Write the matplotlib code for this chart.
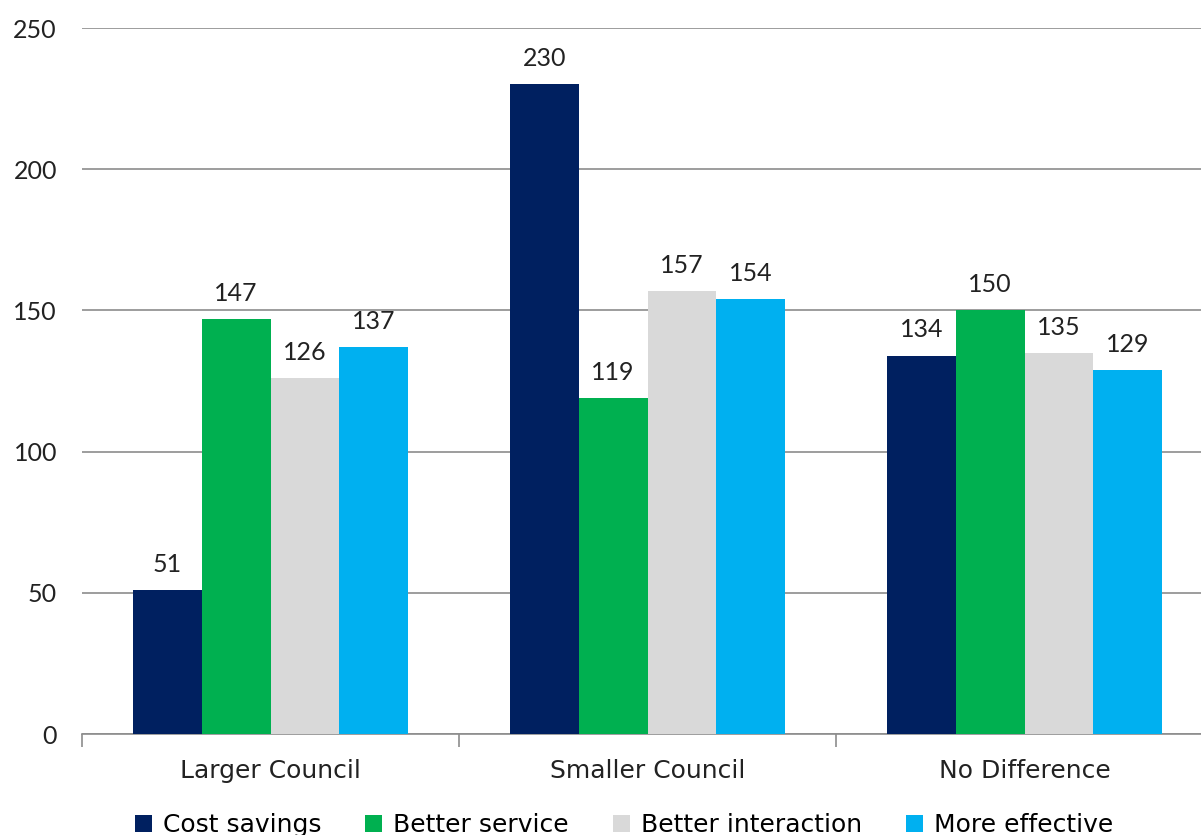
import numpy as np
import matplotlib.pyplot as plt
from matplotlib.patches import Patch

plt.rcParams['font.family'] = ['DejaVu Sans']

# Data
categories = ["Larger Council", "Smaller Council", "No Difference"]
series_names = ["Cost savings", "Better service", "Better interaction", "More effective"]
cost_savings = [51, 230, 134]
better_service = [147, 119, 150]
better_interaction = [126, 157, 135]
more_effective = [137, 154, 129]
colors = ["#002060", "#00B050", "#D9D9D9", "#00B0F0"]

values = [cost_savings, better_service, better_interaction, more_effective]
num_font = ['Lato', 'DejaVu Sans']

fig = plt.figure(figsize=(12.01, 8.35), dpi=100)
# axes spill past the right edge on purpose (third group is cut off)
ax = fig.add_axes([82 / 1201, 1 - 734 / 835, (1213 - 82) / 1201, (734 - 28) / 835])

x = np.arange(len(categories))
width = 0.182
for i, (name, vals, c) in enumerate(zip(series_names, values, colors)):
    pos = x + (i - 1.5) * width
    ax.bar(pos, vals, width, color=c, label=name, zorder=3)
    for p, v in zip(pos, vals):
        ax.text(p, v + 5, str(v), ha='center', va='bottom', fontsize=18,
                color='#222222', family=num_font)

ax.set_xlim(-0.5, 2.5)
ax.set_ylim(0, 250)
ax.set_yticks(range(0, 251, 50))
ax.yaxis.grid(True, color='#8c8c8c', linewidth=1.2, zorder=0)
ax.tick_params(axis='y', length=0, labelsize=18, pad=18, colors='#222222')
for lbl in ax.get_yticklabels():
    lbl.set_family(num_font)

# category labels centered, tick marks on boundaries
ax.set_xticks(x)
ax.set_xticklabels(categories, fontsize=18, color='#222222')
ax.tick_params(axis='x', which='major', length=0, pad=18)
ax.set_xticks(np.arange(-0.5, 3, 1), minor=True)
ax.tick_params(axis='x', which='minor', length=9, color='#8c8c8c', width=1.2)

for s in ['top', 'right', 'left']:
    ax.spines[s].set_visible(False)
ax.spines['bottom'].set_color('#8c8c8c')
ax.spines['bottom'].set_linewidth(1.2)

handles = [Patch(facecolor=c, label=n) for n, c in zip(series_names, colors)]
fig.legend(handles=handles, loc='center', bbox_to_anchor=(624 / 1201, 1 - 825 / 835),
           ncol=4, frameon=False, fontsize=18, handlelength=0.68, handleheight=0.68,
           handletextpad=0.44, columnspacing=1.76)

fig.savefig("out.png", dpi=100)
